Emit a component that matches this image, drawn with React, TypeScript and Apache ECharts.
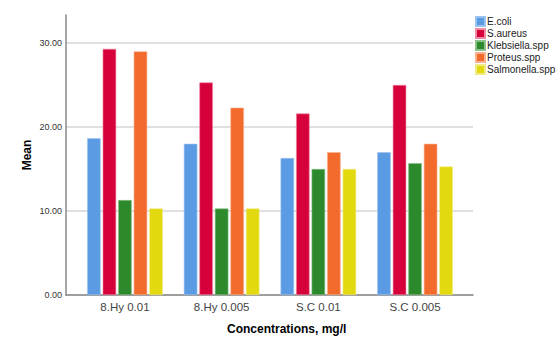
import React, { useEffect, useRef } from "react";
import * as echarts from "echarts";

const categories = ["8.Hy 0.01", "8.Hy 0.005", "S.C 0.01", "S.C 0.005"];
const seriesNames = ["E.coli", "S.aureus", "Klebsiella.spp", "Proteus.spp", "Salmonella.spp"];
const ecoli = [18.65, 18.0, 16.3, 17.0];
const saureus = [29.3, 25.3, 21.6, 25.0];
const klebsiella = [11.3, 10.3, 15.0, 15.7];
const proteus = [29.0, 22.3, 17.0, 18.0];
const salmonella = [10.3, 10.3, 15.0, 15.3];
const seriesValues = [ecoli, saureus, klebsiella, proteus, salmonella];
const colors = ["#5A9BE3", "#D6003A", "#2C8A2C", "#F26B2C", "#E3D90F"];
const borders = ["#9cc3ef", "#ee8aa4", "#8cc08c", "#f8b090", "#f0ea88"];
const yTicks = [0, 10, 20, 30];

export default function App() {
  const ref = useRef<HTMLDivElement>(null);
  useEffect(() => {
    if (!ref.current) return;
    const chart = echarts.init(ref.current, null, { renderer: "svg" });
    const font = "Liberation Sans, Arial, sans-serif";
    const yMaxFull = 33.33;
    chart.setOption({
      animation: false,
      backgroundColor: "#ffffff",
      textStyle: { fontFamily: font },
      title: {
        text: "Concentrations, mg/l",
        left: 227,
        top: 323,
        padding: 0,
        textStyle: { fontSize: 12, fontWeight: "bold", color: "#000", fontFamily: font },
      },
      legend: {
        data: seriesNames,
        orient: "vertical",
        left: 475,
        top: 16,
        padding: 0,
        itemWidth: 9,
        itemHeight: 9,
        itemGap: 1,
        icon: "rect",
        textStyle: { fontSize: 10, color: "#222", padding: [0, 0, 0, -3], fontFamily: font },
      },
      grid: [
        { left: 66, right: 85, top: 15, bottom: 44 },
        { left: 76.6, right: 94.6, top: 15, bottom: 44 },
        { left: 66, right: 85, top: 43, bottom: 44 },
      ],
      xAxis: [
        {
          gridIndex: 0, type: "value", min: 0, max: 1,
          axisLine: { show: true, lineStyle: { color: "#888", width: 1.5 } },
          axisTick: { show: false }, axisLabel: { show: false }, splitLine: { show: false },
        },
        {
          gridIndex: 1, type: "category", data: categories,
          axisLine: { show: false }, axisTick: { show: false },
          axisLabel: { fontSize: 11.5, color: "#444", margin: 6, fontFamily: font },
        },
        {
          gridIndex: 2, type: "value", min: 0, max: 1, show: false,
        },
      ],
      yAxis: [
        {
          gridIndex: 0, type: "value", min: 0, max: yMaxFull,
          axisLine: { show: true, lineStyle: { color: "#888", width: 1.5 } },
          axisTick: { show: false }, axisLabel: { show: false }, splitLine: { show: false },
        },
        {
          gridIndex: 1, type: "value", min: 0, max: yMaxFull, show: false,
        },
        {
          gridIndex: 2, type: "value", min: 0, max: yTicks[yTicks.length - 1], interval: 10,
          axisLine: { show: false }, axisTick: { show: false },
          axisLabel: {
            fontSize: 9, color: "#333", margin: 4, fontFamily: font,
            formatter: (v: number) => v.toFixed(2),
          },
          splitLine: { show: true, lineStyle: { color: "#d6d6d6", width: 1.5 } },
        },
      ],
      series: seriesNames.map((name, i) => ({
        name,
        type: "bar",
        xAxisIndex: 1,
        yAxisIndex: 1,
        data: seriesValues[i],
        barWidth: 13.5,
        barGap: "15%",
        itemStyle: { color: colors[i], borderColor: borders[i], borderWidth: 0.6 },
      })),
      graphic: [
        {
          type: "text",
          x: 27,
          y: 155,
          rotation: Math.PI / 2,
          style: {
            text: "Mean",
            fontSize: 12,
            fontWeight: "bold",
            fill: "#000",
            fontFamily: font,
            align: "center",
            verticalAlign: "middle",
          },
        },
      ],
    });
    return () => chart.dispose();
  }, []);
  return <div ref={ref} style={{ width: 558, height: 339, position: "absolute", left: 0, top: 0 }} />;
}
